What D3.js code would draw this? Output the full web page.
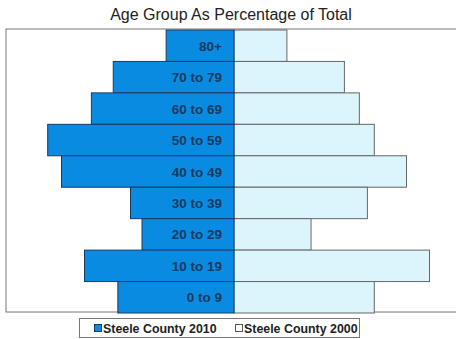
<!DOCTYPE html>
<html>
<head>
<meta charset="utf-8">
<script src="https://cdn.jsdelivr.net/npm/d3@7"></script>
<style>
  body { margin: 0; background: #fff; }
  svg { display: block; font-family: "Liberation Sans", Arial, sans-serif; }
</style>
</head>
<body>
<div id="chart"></div>
<script>
// age groups, top to bottom
const ageGroups = ['80+', '70 to 79', '60 to 69', '50 to 59', '40 to 49', '30 to 39', '20 to 29', '10 to 19', '0 to 9'];
// percent of total population
const county2010 = [5.9, 10.5, 12.4, 16.2, 15.0, 9.0, 8.0, 13.0, 10.1];
const county2000 = [4.6, 9.6, 10.9, 12.2, 15.0, 11.6, 6.7, 17.0, 12.2];
const seriesNames = ['Steele County 2010', 'Steele County 2000'];

const width = 456, height = 339;
const plot = {left: 6, top: 29, right: 462, bottom: 312};
const centerX = 234;

const svg = d3.select('#chart').append('svg')
    .attr('width', width)
    .attr('height', height);

// Titulo
svg.append('text')
    .attr('x', 231)
    .attr('y', 20)
    .attr('text-anchor', 'middle')
    .attr('fill', '#222')
    .style('font-size', '16px')
    .text('Age Group As Percentage of Total');

// Area do grafico
svg.append('rect')
    .attr('x', plot.left)
    .attr('y', plot.top)
    .attr('width', plot.right - plot.left)
    .attr('height', plot.bottom - plot.top)
    .attr('fill', '#fff')
    .attr('stroke', '#777')
    .attr('stroke-width', 1);

const y = d3.scaleBand()
    .domain(ageGroups)
    .range([plot.top + 1, plot.bottom + 1])
    .padding(0);

// px per percent
const xLeft = d3.scaleLinear().domain([0, 1]).range([centerX, centerX - 11.5]);
const xRight = d3.scaleLinear().domain([0, 1]).range([centerX, centerX + 11.5]);

// Barras 2000 (direita)
svg.append('g').selectAll('rect')
    .data(ageGroups)
    .join('rect')
    .attr('x', centerX)
    .attr('y', d => y(d))
    .attr('width', (d, i) => xRight(county2000[i]) - centerX)
    .attr('height', y.bandwidth())
    .attr('fill', '#dcf5fc')
    .attr('stroke', '#666')
    .attr('stroke-width', 1);

// Barras 2010 (esquerda)
svg.append('g').selectAll('rect')
    .data(ageGroups)
    .join('rect')
    .attr('x', (d, i) => xLeft(county2010[i]))
    .attr('y', d => y(d))
    .attr('width', (d, i) => centerX - xLeft(county2010[i]))
    .attr('height', y.bandwidth())
    .attr('fill', '#0a8be2')
    .attr('stroke', '#1a3a66')
    .attr('stroke-width', 1);

// Labels
svg.append('g').selectAll('text')
    .data(ageGroups)
    .join('text')
    .attr('x', 222)
    .attr('y', d => y(d) + y.bandwidth() / 2 + 5)
    .attr('text-anchor', 'end')
    .attr('fill', '#173a5e')
    .style('font-size', '13.5px')
    .style('font-weight', 'bold')
    .text(d => d);

// Legenda
const legend = svg.append('g');
legend.append('rect')
    .attr('x', 79.5)
    .attr('y', 318.5)
    .attr('width', 280)
    .attr('height', 19)
    .attr('fill', '#fff')
    .attr('stroke', '#777');

const legendItems = [
    {name: seriesNames[0], fill: '#0a8be2', stroke: '#1a3a66', x: 96},
    {name: seriesNames[1], fill: '#fff', stroke: '#555', x: 237}
];
legendItems.forEach(item => {
    legend.append('rect')
        .attr('x', item.x - 1.5)
        .attr('y', 324.5)
        .attr('width', 7)
        .attr('height', 7)
        .attr('fill', item.fill)
        .attr('stroke', item.stroke);
    legend.append('text')
        .attr('x', item.x + 7)
        .attr('y', 332.5)
        .attr('fill', '#222')
        .style('font-size', '12.4px')
        .style('font-weight', 'bold')
        .text(item.name);
});
</script>
</body>
</html>
